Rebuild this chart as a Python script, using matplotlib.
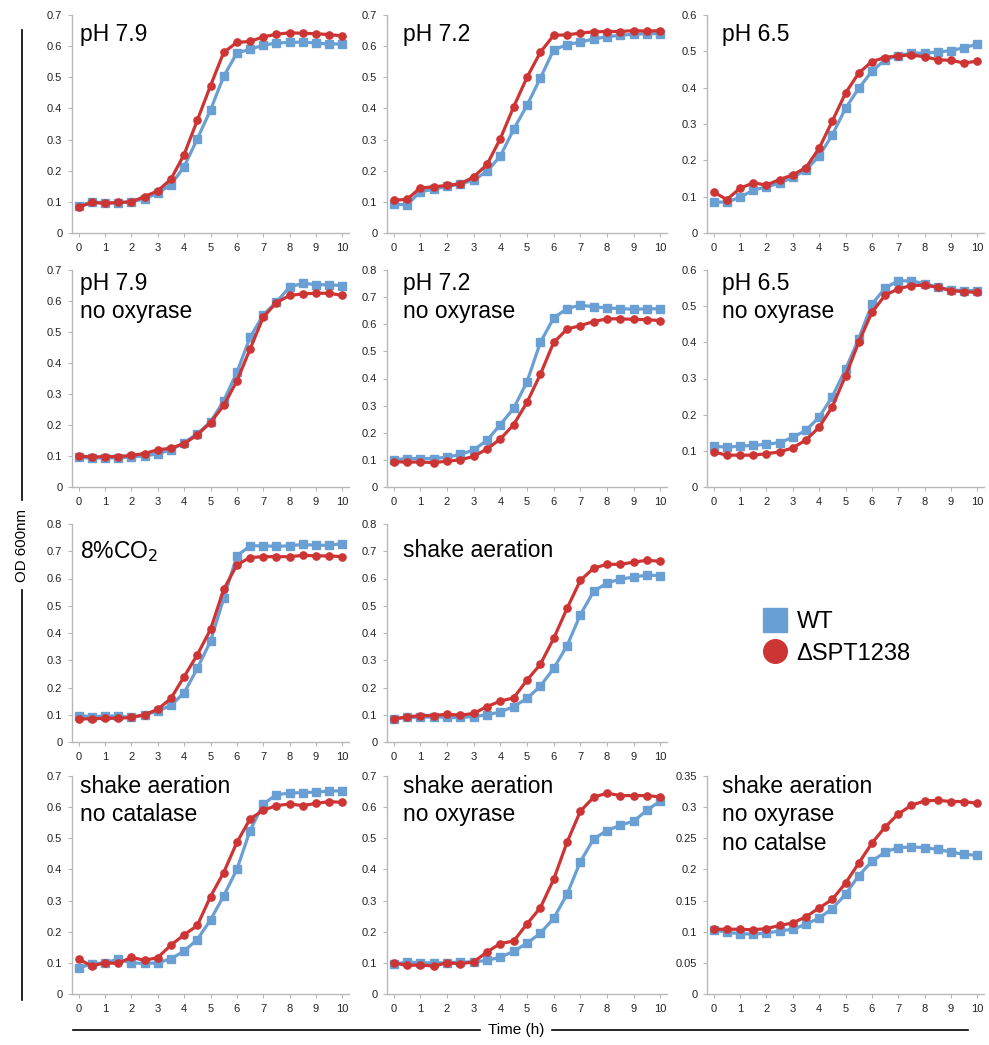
import matplotlib
matplotlib.use('Agg')
import numpy as np
from matplotlib import pyplot as plt
from matplotlib.lines import Line2D

plt.rcParams['font.family'] = ['Liberation Sans', 'DejaVu Sans']

# time points (h)
hours = [0, 0.5, 1, 1.5, 2, 2.5, 3, 3.5, 4, 4.5, 5, 5.5, 6, 6.5, 7, 7.5, 8, 8.5, 9, 9.5, 10]

# OD 600nm readings, WT and deletion mutant for each condition
wt_ph79 = [0.087, 0.100, 0.097, 0.097, 0.100, 0.110, 0.128, 0.155, 0.213, 0.302, 0.395,
           0.503, 0.578, 0.590, 0.603, 0.610, 0.612, 0.613, 0.610, 0.607, 0.607]
ko_ph79 = [0.083, 0.098, 0.095, 0.098, 0.100, 0.117, 0.135, 0.173, 0.252, 0.362, 0.473,
           0.580, 0.612, 0.615, 0.630, 0.638, 0.643, 0.641, 0.640, 0.637, 0.633]

wt_ph72 = [0.093, 0.090, 0.133, 0.140, 0.150, 0.157, 0.170, 0.198, 0.247, 0.333, 0.410,
           0.497, 0.588, 0.605, 0.613, 0.623, 0.630, 0.635, 0.638, 0.640, 0.640]
ko_ph72 = [0.105, 0.108, 0.145, 0.148, 0.153, 0.158, 0.180, 0.220, 0.303, 0.405, 0.500,
           0.580, 0.635, 0.636, 0.642, 0.646, 0.647, 0.647, 0.650, 0.648, 0.650]

wt_ph65 = [0.085, 0.085, 0.098, 0.118, 0.127, 0.137, 0.153, 0.173, 0.212, 0.270, 0.343,
           0.398, 0.445, 0.477, 0.488, 0.495, 0.495, 0.498, 0.502, 0.510, 0.520]
ko_ph65 = [0.113, 0.092, 0.123, 0.138, 0.132, 0.147, 0.160, 0.180, 0.233, 0.308, 0.385,
           0.440, 0.472, 0.483, 0.488, 0.490, 0.485, 0.477, 0.475, 0.468, 0.473]

wt_ph79_nox = [0.096, 0.093, 0.094, 0.094, 0.097, 0.100, 0.107, 0.120, 0.143, 0.172, 0.210,
               0.278, 0.370, 0.483, 0.555, 0.597, 0.645, 0.657, 0.653, 0.652, 0.650]
ko_ph79_nox = [0.100, 0.097, 0.098, 0.098, 0.102, 0.108, 0.120, 0.125, 0.140, 0.168, 0.208,
               0.263, 0.342, 0.445, 0.548, 0.595, 0.618, 0.623, 0.625, 0.625, 0.618]

wt_ph72_nox = [0.100, 0.105, 0.105, 0.105, 0.110, 0.120, 0.137, 0.172, 0.230, 0.290, 0.388,
               0.533, 0.623, 0.658, 0.670, 0.665, 0.660, 0.658, 0.655, 0.657, 0.657]
ko_ph72_nox = [0.093, 0.092, 0.092, 0.090, 0.095, 0.100, 0.113, 0.140, 0.177, 0.230, 0.312,
               0.415, 0.533, 0.582, 0.595, 0.610, 0.620, 0.620, 0.618, 0.617, 0.613]

wt_ph65_nox = [0.113, 0.110, 0.113, 0.115, 0.118, 0.123, 0.137, 0.157, 0.193, 0.250, 0.325,
               0.410, 0.505, 0.550, 0.570, 0.570, 0.562, 0.553, 0.545, 0.543, 0.543]
ko_ph65_nox = [0.097, 0.088, 0.088, 0.088, 0.092, 0.097, 0.108, 0.130, 0.165, 0.222, 0.307,
               0.400, 0.483, 0.530, 0.548, 0.557, 0.558, 0.552, 0.543, 0.540, 0.538]

wt_co2 = [0.097, 0.093, 0.095, 0.095, 0.090, 0.100, 0.113, 0.135, 0.180, 0.270, 0.370,
          0.527, 0.683, 0.720, 0.720, 0.718, 0.720, 0.725, 0.722, 0.722, 0.728]
ko_co2 = [0.085, 0.085, 0.087, 0.087, 0.090, 0.100, 0.120, 0.160, 0.240, 0.320, 0.413,
          0.560, 0.650, 0.677, 0.680, 0.680, 0.680, 0.685, 0.683, 0.683, 0.680]

wt_shake = [0.085, 0.090, 0.090, 0.093, 0.090, 0.090, 0.093, 0.100, 0.110, 0.130, 0.160,
            0.205, 0.270, 0.353, 0.467, 0.553, 0.583, 0.598, 0.605, 0.613, 0.610]
ko_shake = [0.085, 0.092, 0.097, 0.097, 0.102, 0.098, 0.105, 0.130, 0.150, 0.162, 0.227,
            0.285, 0.380, 0.490, 0.593, 0.638, 0.652, 0.652, 0.660, 0.667, 0.663]

wt_shake_ncat = [0.083, 0.097, 0.100, 0.112, 0.100, 0.098, 0.100, 0.113, 0.138, 0.175, 0.238,
                 0.315, 0.400, 0.525, 0.610, 0.640, 0.645, 0.647, 0.648, 0.652, 0.652]
ko_shake_ncat = [0.112, 0.090, 0.100, 0.098, 0.118, 0.108, 0.117, 0.157, 0.190, 0.220, 0.313,
                 0.390, 0.487, 0.562, 0.590, 0.605, 0.610, 0.605, 0.612, 0.618, 0.615]

wt_shake_nox = [0.095, 0.103, 0.100, 0.100, 0.100, 0.103, 0.103, 0.108, 0.118, 0.137, 0.163,
                0.195, 0.243, 0.320, 0.425, 0.498, 0.525, 0.542, 0.555, 0.590, 0.620]
ko_shake_nox = [0.100, 0.092, 0.093, 0.090, 0.100, 0.097, 0.103, 0.135, 0.162, 0.170, 0.225,
                0.277, 0.368, 0.487, 0.587, 0.632, 0.645, 0.637, 0.637, 0.637, 0.633]

wt_shake_nox_ncat = [0.103, 0.099, 0.097, 0.096, 0.098, 0.101, 0.104, 0.112, 0.122, 0.137, 0.160,
                     0.190, 0.213, 0.228, 0.235, 0.236, 0.235, 0.232, 0.228, 0.224, 0.223]
ko_shake_nox_ncat = [0.104, 0.104, 0.104, 0.103, 0.105, 0.110, 0.114, 0.124, 0.138, 0.152, 0.178,
                     0.210, 0.242, 0.268, 0.289, 0.303, 0.310, 0.311, 0.309, 0.309, 0.306]

titles = ['pH 7.9', 'pH 7.2', 'pH 6.5',
          'pH 7.9\nno oxyrase', 'pH 7.2\nno oxyrase', 'pH 6.5\nno oxyrase',
          '8%CO$_2$', 'shake aeration',
          'shake aeration\nno catalase', 'shake aeration\nno oxyrase',
          'shake aeration\nno oxyrase\nno catalse']
wt_series = [wt_ph79, wt_ph72, wt_ph65, wt_ph79_nox, wt_ph72_nox, wt_ph65_nox,
             wt_co2, wt_shake, wt_shake_ncat, wt_shake_nox, wt_shake_nox_ncat]
ko_series = [ko_ph79, ko_ph72, ko_ph65, ko_ph79_nox, ko_ph72_nox, ko_ph65_nox,
             ko_co2, ko_shake, ko_shake_ncat, ko_shake_nox, ko_shake_nox_ncat]
ymax = [0.7, 0.7, 0.6, 0.7, 0.8, 0.6, 0.8, 0.8, 0.7, 0.7, 0.35]
ystep = [0.1] * 10 + [0.05]
# (row, col) of each panel in the 4x3 grid; (2, 2) holds the legend
cells = [(0, 0), (0, 1), (0, 2), (1, 0), (1, 1), (1, 2), (2, 0), (2, 1), (3, 0), (3, 1), (3, 2)]

BLUE = '#6a9fd3'
RED = '#cd3434'
AXC = '#b8b8b8'

W, H = 989, 1045
col_x = [(72, 349), (387, 667), (707, 984)]
row_y = [(15, 233), (270, 487), (524, 742), (776, 994)]
# label offsets from the axes' top-left corner, pixels
col_dx = [8, 16, 15]
row_dy = [8, 2, 15, -1]

fig = plt.figure(figsize=(W / 100, H / 100), dpi=100)

for i, (r, c) in enumerate(cells):
    x0, x1 = col_x[c]
    y0, y1 = row_y[r]
    ax = fig.add_axes([x0 / W, 1 - y1 / H, (x1 - x0) / W, (y1 - y0) / H])
    ax.plot(hours, wt_series[i], color=BLUE, lw=2.3, marker='s', ms=5.2, mec=BLUE, zorder=2)
    ax.plot(hours, ko_series[i], color=RED, lw=2.3, marker='o', ms=5.2, mec=RED, zorder=3)
    ax.set_xlim(-0.25, 10.25)
    ax.set_ylim(0, ymax[i])
    ax.set_xticks(range(11))
    ax.set_yticks(np.arange(0, ymax[i] + ystep[i] / 2, ystep[i]))
    ax.yaxis.set_major_formatter(matplotlib.ticker.FuncFormatter(lambda v, p: '%g' % round(v, 3)))
    for s in ['top', 'right']:
        ax.spines[s].set_visible(False)
    for s in ['left', 'bottom']:
        ax.spines[s].set_color(AXC)
        ax.spines[s].set_linewidth(1.0)
    ax.tick_params(axis='both', labelsize=8, colors=AXC, labelcolor='#222222', length=3, width=0.8, pad=4)
    ax.annotate(titles[i], xy=(0, 1), xycoords='axes fraction',
                xytext=(col_dx[c], -row_dy[r]), textcoords='offset pixels',
                ha='left', va='top', fontsize=16.5, linespacing=1.3, color='black',
                annotation_clip=False)

# legend in the empty cell
handles = [Line2D([], [], ls='none', marker='s', ms=17, color=BLUE),
           Line2D([], [], ls='none', marker='o', ms=17, color=RED)]
fig.legend(handles, ['WT', '\u0394SPT1238'], loc='center left',
           bbox_to_anchor=(754 / W, 1 - 638 / H), frameon=False, fontsize=17,
           handlelength=1.0, handletextpad=0.4, labelspacing=0.4, borderaxespad=0)

# axis titles with flanking rules
fig.text(22 / W, 1 - 545 / H, 'OD 600nm', rotation=90, ha='center', va='center', fontsize=10.8)
fig.add_artist(Line2D([22 / W, 22 / W], [1 - 30 / H, 1 - 500 / H], color='black', lw=1.2))
fig.add_artist(Line2D([22 / W, 22 / W], [1 - 590 / H, 1 - 1000 / H], color='black', lw=1.2))
fig.text(516 / W, 1 - 1030 / H, 'Time (h)', ha='center', va='center', fontsize=11)
fig.add_artist(Line2D([73 / W, 480 / W], [1 - 1030 / H, 1 - 1030 / H], color='black', lw=1.2))
fig.add_artist(Line2D([552 / W, 968 / W], [1 - 1030 / H, 1 - 1030 / H], color='black', lw=1.2))

fig.savefig('out.png', dpi=100)
